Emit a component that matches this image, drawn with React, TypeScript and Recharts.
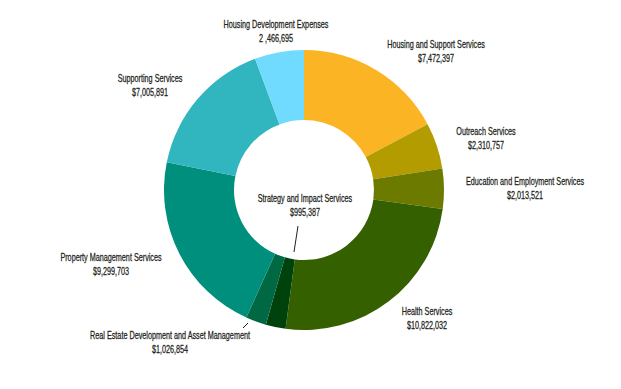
import React from "react";
import { PieChart, Pie, Cell } from "recharts";

const categories = [
  "Housing and Support Services",
  "Outreach Services",
  "Education and Employment Services",
  "Health Services",
  "Strategy and Impact Services",
  "Real Estate Development and Asset Management",
  "Property Management Services",
  "Supporting Services",
  "Housing Development Expenses",
];

const amounts = [7472397, 2310757, 2013521, 10822032, 995387, 1026854, 9299703, 7005891, 2466695];

const valueLabels = [
  "$7,472,397",
  "$2,310,757",
  "$2,013,521",
  "$10,822,032",
  "$995,387",
  "$1,026,854",
  "$9,299,703",
  "$7,005,891",
  "2 ,466,695",
];

const colors = ["#FBB423", "#B39C00", "#6C7A00", "#356000", "#00420B", "#006843", "#008F7C", "#31B5BF", "#70DBFF"];

// label layout: centre x, first baseline y, optional leader line
const labelLayout: { x: number; y: number; line?: [number, number, number, number] }[] = [
  { x: 436, y: 48 },
  { x: 486, y: 135 },
  { x: 525, y: 185 },
  { x: 427, y: 315 },
  { x: 305, y: 202, line: [298, 226, 294, 252] },
  { x: 170, y: 339, line: [243, 328, 248, 323] },
  { x: 111, y: 261 },
  { x: 150, y: 82 },
  { x: 276, y: 28 },
];

const data = categories.map((name, i) => ({ name, value: amounts[i], label: valueLabels[i] }));

const FONT = "'Liberation Sans', Arial, sans-serif";
const SX = 0.71;

const Txt = ({ x, y, children }: { x: number; y: number; children: React.ReactNode }) => (
  <text
    transform={`translate(${x},${y}) scale(${SX},1)`}
    x={0}
    y={0}
    textAnchor="middle"
    fontFamily={FONT}
    fontSize={10.2}
    fill="#231F20"
    stroke="#231F20"
    strokeWidth={0.25}
  >
    {children}
  </text>
);

const renderLabel = (props: any) => {
  const i = props.index;
  const l = labelLayout[i];
  return (
    <g key={`lbl-${i}`}>
      <Txt x={l.x} y={l.y}>{categories[i]}</Txt>
      <Txt x={l.x} y={l.y + 14}>{valueLabels[i]}</Txt>
      {l.line && (
        <line x1={l.line[0]} y1={l.line[1]} x2={l.line[2]} y2={l.line[3]} stroke="#231F20" strokeWidth={1} />
      )}
    </g>
  );
};

export default function App() {
  return (
    <div style={{ position: "absolute", left: 0, top: 0, width: 621, height: 389, background: "#fff" }}>
      <PieChart width={621} height={389} margin={{ top: 0, right: 0, bottom: 0, left: 0 }}>
        <Pie
          data={data}
          dataKey="value"
          nameKey="name"
          cx={304}
          cy={190}
          innerRadius={70}
          outerRadius={140}
          startAngle={90}
          endAngle={-270}
          stroke="none"
          isAnimationActive={false}
          label={renderLabel}
          labelLine={false}
        >
          {data.map((d, i) => (
            <Cell key={d.name} fill={colors[i]} />
          ))}
        </Pie>
      </PieChart>
    </div>
  );
}
